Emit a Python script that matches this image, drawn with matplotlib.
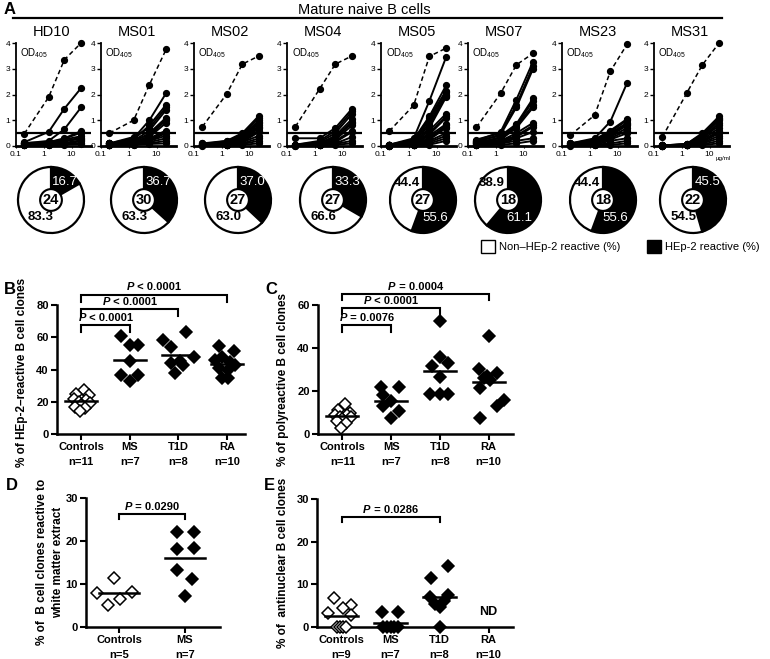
import numpy as np
import matplotlib
matplotlib.use('Agg')
import matplotlib.pyplot as plt
from matplotlib.patches import Rectangle
from matplotlib.offsetbox import TextArea, HPacker, AnnotationBbox

plt.rcParams['font.family'] = ['Liberation Sans', 'DejaVu Sans']
plt.rcParams['mathtext.fontset'] = 'custom'
plt.rcParams['mathtext.rm'] = 'Liberation Sans'
plt.rcParams['mathtext.it'] = 'Liberation Sans:italic'
plt.rcParams['mathtext.bf'] = 'Liberation Sans:bold'

# ---------------- data, panel A (OD405 ELISA curves) ----------------
conc = [0.2, 1.5, 5.5, 22]   # µg/ml

donors = ['HD10', 'MS01', 'MS02', 'MS04', 'MS05', 'MS07', 'MS23', 'MS31']
n_clones = [24, 30, 27, 27, 27, 18, 18, 22]
pct_pos = [16.7, 36.7, 37.0, 33.3, 55.6, 61.1, 55.6, 45.5]
pct_neg = [83.3, 63.3, 63.0, 66.6, 44.4, 38.9, 44.4, 54.5]

HD10_ctrl = [0.48, 1.9, 3.35, 4.0]
HD10 = [[0.15, 0.55, 1.45, 2.25], [0.1, 0.2, 0.65, 1.5], [0.12, 0.15, 0.3, 0.58],
        [0.1, 0.12, 0.28, 0.52], [0.08, 0.1, 0.25, 0.38], [0.1, 0.1, 0.2, 0.32],
        [0.05, 0.08, 0.18, 0.28], [0.05, 0.06, 0.12, 0.22], [0.03, 0.05, 0.1, 0.18],
        [0.02, 0.04, 0.06, 0.12], [0.02, 0.03, 0.05, 0.08]]
MS01_ctrl = [0.5, 1.0, 2.38, 3.75]
MS01 = [[0.1, 0.3, 1.0, 2.05], [0.05, 0.25, 0.8, 1.6], [0.1, 0.35, 0.7, 1.5],
        [0.05, 0.2, 0.6, 1.4], [0.1, 0.15, 0.5, 1.1], [0.05, 0.2, 0.45, 1.05],
        [0.1, 0.1, 0.4, 1.0], [0.05, 0.15, 0.35, 0.9], [0.1, 0.1, 0.3, 0.6],
        [0.05, 0.1, 0.25, 0.55], [0.05, 0.1, 0.2, 0.5], [0.1, 0.15, 0.2, 0.4],
        [0.05, 0.1, 0.15, 0.3], [0.05, 0.05, 0.1, 0.2], [0.02, 0.05, 0.08, 0.1]]
MS02_ctrl = [0.75, 2.02, 3.18, 3.5]
MS02 = [[0.1, 0.2, 0.5, 1.18], [0.08, 0.15, 0.45, 1.1], [0.05, 0.2, 0.4, 1.0],
        [0.1, 0.15, 0.35, 0.95], [0.05, 0.1, 0.3, 0.9], [0.05, 0.1, 0.3, 0.8],
        [0.02, 0.1, 0.25, 0.75], [0.05, 0.05, 0.2, 0.7], [0.02, 0.08, 0.2, 0.6],
        [0.05, 0.05, 0.15, 0.55], [0.02, 0.05, 0.15, 0.4], [0.02, 0.05, 0.1, 0.3],
        [0.02, 0.03, 0.08, 0.2], [0.01, 0.02, 0.05, 0.1]]
MS04_ctrl = [0.75, 2.22, 3.18, 3.5]
MS04 = [[0.3, 0.3, 0.7, 1.45], [0.05, 0.2, 0.6, 1.35], [0.05, 0.15, 0.5, 1.25],
        [0.02, 0.1, 0.4, 1.05], [0.05, 0.1, 0.35, 0.95], [0.02, 0.1, 0.3, 0.9],
        [0.02, 0.05, 0.25, 0.8], [0.02, 0.05, 0.2, 0.6], [0.02, 0.05, 0.15, 0.55],
        [0.02, 0.03, 0.1, 0.35], [0.01, 0.02, 0.08, 0.2], [0.01, 0.02, 0.05, 0.1]]
MS05_ctrl = [0.58, 1.58, 3.48, 3.8]
MS05 = [[0.05, 0.3, 1.75, 3.45], [0.05, 0.25, 1.15, 2.35], [0.05, 0.2, 1.1, 2.15],
        [0.02, 0.2, 1.0, 2.1], [0.02, 0.15, 0.9, 2.0], [0.02, 0.15, 0.8, 1.95],
        [0.02, 0.1, 0.7, 1.9], [0.02, 0.1, 0.6, 1.25], [0.02, 0.1, 0.5, 1.15],
        [0.02, 0.08, 0.45, 1.1], [0.02, 0.05, 0.4, 0.85], [0.02, 0.05, 0.3, 0.8],
        [0.02, 0.05, 0.3, 0.75], [0.01, 0.05, 0.25, 0.7], [0.01, 0.05, 0.2, 0.5],
        [0.01, 0.03, 0.15, 0.4], [0.01, 0.03, 0.1, 0.3], [0.01, 0.02, 0.05, 0.2]]
MS07_ctrl = [0.72, 2.05, 3.15, 3.6]
MS07 = [[0.2, 0.55, 1.8, 3.28], [0.25, 0.5, 1.6, 3.1], [0.15, 0.45, 1.5, 3.0],
        [0.2, 0.4, 0.85, 1.85], [0.1, 0.35, 0.8, 1.75], [0.15, 0.3, 0.75, 1.6],
        [0.1, 0.25, 0.7, 1.5], [0.05, 0.2, 0.5, 0.9], [0.1, 0.2, 0.4, 0.8],
        [0.05, 0.15, 0.35, 0.75], [0.05, 0.1, 0.3, 0.55], [0.05, 0.1, 0.2, 0.3],
        [0.02, 0.05, 0.1, 0.2]]
MS23_ctrl = [0.42, 1.2, 2.9, 3.95]
MS23 = [[0.1, 0.3, 0.95, 2.45], [0.1, 0.25, 0.6, 1.05], [0.05, 0.2, 0.55, 1.0],
        [0.1, 0.2, 0.5, 0.9], [0.05, 0.15, 0.45, 0.85], [0.05, 0.15, 0.4, 0.8],
        [0.05, 0.1, 0.35, 0.7], [0.02, 0.1, 0.3, 0.6], [0.02, 0.1, 0.25, 0.5],
        [0.02, 0.05, 0.2, 0.3], [0.02, 0.05, 0.1, 0.2], [0.01, 0.02, 0.05, 0.1]]
MS31_ctrl = [0.35, 2.05, 3.15, 4.0]
MS31 = [[0.02, 0.08, 0.5, 1.15], [0.02, 0.08, 0.45, 1.1], [0.02, 0.06, 0.4, 1.05],
        [0.02, 0.06, 0.35, 1.0], [0.02, 0.05, 0.3, 0.9], [0.02, 0.05, 0.3, 0.8],
        [0.02, 0.05, 0.25, 0.7], [0.02, 0.04, 0.2, 0.6], [0.01, 0.04, 0.2, 0.55],
        [0.01, 0.03, 0.15, 0.5], [0.01, 0.03, 0.12, 0.4], [0.01, 0.02, 0.1, 0.3],
        [0.01, 0.02, 0.06, 0.2], [0.01, 0.02, 0.04, 0.1]]

ctrl_curves = [HD10_ctrl, MS01_ctrl, MS02_ctrl, MS04_ctrl, MS05_ctrl, MS07_ctrl, MS23_ctrl, MS31_ctrl]
clone_curves = [HD10, MS01, MS02, MS04, MS05, MS07, MS23, MS31]

# ---------------- data, panels B-E (% per subject) ----------------
groups4 = ['Controls', 'MS', 'T1D', 'RA']
B_n = [11, 7, 8, 10]
B_ctrl = [27, 25, 24, 22, 21, 20, 19, 18, 17, 16, 14]
B_ms = [60.7, 55.1, 55.1, 45.2, 36.5, 36.5, 32.8]
B_t1d = [58.2, 54, 63, 47.5, 44, 42.5, 45, 38]
B_ra = [54.7, 51.4, 47.9, 44.5, 40.7, 39.6, 43, 34.7, 34.7, 46]

C_n = [11, 7, 8, 10]
C_ctrl = [14, 11, 10, 9, 9, 8, 8, 7, 6, 5, 3]
C_ms = [22, 22, 18, 15.5, 13, 10.8, 7.4]
C_t1d = [52.7, 36, 31.8, 32.9, 26.7, 18.6, 18.6, 18.6]
C_ra = [45.6, 30.1, 28.5, 27, 25.1, 21.5, 15.8, 13.2, 7.3, 26]

groups2 = ['Controls', 'MS']
D_n = [5, 7]
D_ctrl = [11.5, 7.8, 8.1, 5.2, 6.4]
D_ms = [22, 22, 18.1, 18.4, 13.2, 11.1, 7.2]

E_n = [9, 7, 8, 10]
E_ctrl = [6.8, 5.2, 4.4, 3.3, 2.7, 0, 0, 0, 0]
E_ms = [3.6, 3.6, 0, 0, 0, 0, 0]
E_t1d = [14.2, 11.5, 7.4, 7, 6, 5.5, 4.7, 0]

# horizontal scatter of the symbols (layout only)
off_ctrl11 = [0.05, -0.1, 0.15, -0.15, 0.1, -0.05, 0.18, 0.0, -0.12, 0.08, -0.02]
off_B = [off_ctrl11,
         [-0.18, 0.0, 0.17, 0.0, -0.18, 0.17, 0.0],
         [-0.31, -0.16, 0.16, 0.32, -0.16, 0.1, 0.03, -0.08],
         [-0.17, 0.14, -0.1, 0.07, -0.17, 0.03, 0.17, -0.1, 0.03, -0.24]]
off_C = [off_ctrl11,
         [-0.2, 0.17, -0.17, 0.0, -0.17, 0.17, 0.0],
         [0.0, 0.0, -0.17, 0.17, 0.0, -0.2, 0.0, 0.17],
         [0.0, -0.19, 0.17, -0.03, 0.03, -0.18, 0.32, 0.17, -0.18, -0.1]]
off_D = [[-0.08, -0.34, 0.19, -0.17, 0.01],
         [-0.12, 0.13, -0.12, 0.13, -0.12, 0.11, 0.0]]
off_E = [[-0.15, 0.2, 0.03, -0.27, 0.2, -0.1, -0.03, 0.03, 0.1],
         [-0.17, 0.15, -0.15, -0.07, 0.0, 0.07, 0.15],
         [0.17, -0.17, 0.17, -0.2, 0.1, -0.1, 0.0, 0.0]]

W, H = 770, 659
fig = plt.figure(figsize=(W / 100, H / 100), dpi=100)


def box(l, t, r, b):
    return [l / W, 1 - b / H, (r - l) / W, (b - t) / H]


def ftext(x, y, s, **kw):
    fig.text(x / W, 1 - y / H, s, **kw)


# ---------------- panel A ----------------
ftext(4, 10, 'A', fontsize=12, fontweight='bold', va='center')
ftext(364, 10, 'Mature naive B cells', fontsize=10.5, ha='center', va='center')
fig.add_artist(plt.Line2D([13 / W, 722 / W], [1 - 18 / H, 1 - 18 / H], color='k', lw=1.6))

a_left = [16, 101, 194, 287, 381, 468, 562, 654]
pie_x = [51, 144, 238, 333, 423, 508, 603, 693]
pie_y = 200
R = 33

for i, name in enumerate(donors):
    l = a_left[i]
    ax = fig.add_axes(box(l, 43, l + 75, 146))
    for c in clone_curves[i]:
        ax.plot(conc, c, '-o', color='k', lw=1.4, ms=4.2, clip_on=False, zorder=3)
    ax.plot(conc, ctrl_curves[i], '--o', color='k', lw=1.1, ms=4.2, dashes=(3, 2),
            clip_on=False, zorder=3)
    ax.axhline(0.5, color='k', lw=1.6, zorder=2)
    ax.set_xscale('log')
    ax.set_xlim(0.1, 50)
    ax.set_ylim(0, 4)
    for s in ['top', 'right']:
        ax.spines[s].set_visible(False)
    ax.spines['left'].set_linewidth(1.3)
    ax.spines['bottom'].set_linewidth(2)
    ax.set_yticks([0, 1, 2, 3, 4])
    ax.set_yticklabels(['0', '1', '2', '3', '4'], fontsize=6)
    ax.set_xticks([0.1, 1, 10])
    ax.set_xticklabels(['0.1', '1', '10'], fontsize=6)
    ax.xaxis.set_minor_locator(matplotlib.ticker.NullLocator())
    ax.tick_params(axis='y', length=3, width=1, pad=1)
    ax.tick_params(axis='x', length=1.5, width=0.8, pad=2)
    ax.text(0.06, 0.97, r'OD$_{405}$', transform=ax.transAxes, fontsize=7, va='top')
    if i == len(donors) - 1:
        ax.text(17, -0.1, 'µg/ml', fontsize=4.5, va='top', transform=ax.get_xaxis_transform())
    ftext(l + 36, 32, name, fontsize=10.5, ha='center', va='center')

    # pie of reactivity
    S = R * 1.1
    pax = fig.add_axes(box(pie_x[i] - S, pie_y - S, pie_x[i] + S, pie_y + S))
    pax.pie([pct_pos[i], pct_neg[i]], colors=['k', 'w'], startangle=90, counterclock=False,
            radius=1, wedgeprops=dict(edgecolor='k', linewidth=1.6))
    pax.set_xlim(-1.1, 1.1)
    pax.set_ylim(-1.1, 1.1)
    pax.add_patch(plt.Circle((0, 0), 0.33, fc='w', ec='k', lw=1.5, zorder=5))
    pax.text(0, 0, str(n_clones[i]), ha='center', va='center', fontsize=10.5,
             fontweight='bold', zorder=6)
    if pct_pos[i] < 50:
        ap, an, rp, rn = np.deg2rad(52), np.deg2rad(-120), 0.70, 0.60
    else:
        ap, an, rp, rn = np.deg2rad(-57), np.deg2rad(133), 0.66, 0.72
    pax.text(rp * np.cos(ap), rp * np.sin(ap), f'{pct_pos[i]:.1f}', color='w',
             ha='center', va='center', fontsize=9.5, zorder=6)
    pax.text(rn * np.cos(an), rn * np.sin(an), f'{pct_neg[i]:.1f}', color='k',
             ha='center', va='center', fontsize=9.5, fontweight='bold', zorder=6)

# legend for pies
fig.add_artist(Rectangle((481 / W, 1 - 253 / H), 14 / W, 13 / H, transform=fig.transFigure,
                         fc='w', ec='k', lw=1))
ftext(499, 247, 'Non\u2013HEp-2 reactive (%)', fontsize=8, va='center')
fig.add_artist(Rectangle((647 / W, 1 - 253 / H), 14 / W, 13 / H, transform=fig.transFigure,
                         fc='k', ec='k', lw=1))
ftext(665, 247, 'HEp-2 reactive (%)', fontsize=8, va='center')


# ---------------- helpers for dot plots ----------------
def ptext(ax, x, y, rest):
    a = TextArea('P', textprops=dict(fontstyle='italic', fontweight='bold', fontsize=8))
    b = TextArea(rest, textprops=dict(fontweight='bold', fontsize=8))
    pk = HPacker(children=[a, b], align='baseline', pad=0, sep=0)
    ab = AnnotationBbox(pk, (x, y), xycoords='data', xybox=(0, 1.5), boxcoords='offset points',
                        frameon=False, box_alignment=(0.5, 0), annotation_clip=False)
    ax.add_artist(ab)


def bracket(ax, x0, x1, y, drop, txt):
    ax.plot([x0, x0, x1, x1], [y - drop, y, y, y - drop], color='k', lw=1.5,
            clip_on=False, solid_joinstyle='miter')
    ptext(ax, (x0 + x1) / 2, y, txt)


def dot_panel(ax, values, offsets, half, ymax, yticks, cats, ns, xmax):
    for k, vals in enumerate(values):
        xs = [k + o for o in offsets[k]]
        filled = k > 0
        ax.plot(xs, vals, 'D', ms=6.2, mfc='k' if filled else 'w', mec='k', mew=1.1,
                ls='none', clip_on=False, zorder=3)
        m = np.mean(vals)
        ax.plot([k - half, k + half], [m, m], color='k', lw=1.8, zorder=4)
    ax.set_xlim(-0.5, xmax)
    ax.set_ylim(0, ymax)
    for s in ['top', 'right']:
        ax.spines[s].set_visible(False)
    for s in ['left', 'bottom']:
        ax.spines[s].set_linewidth(1.8)
    ax.set_yticks(yticks)
    ax.set_yticklabels([str(t) for t in yticks], fontsize=8, fontweight='bold')
    ax.set_xticks(range(len(cats)))
    ax.set_xticklabels([f'{c}\nn={n}' for c, n in zip(cats, ns)], fontsize=8,
                       fontweight='bold', linespacing=1.6)
    ax.tick_params(direction='out', length=4, width=1.5, pad=2)


# ---------------- panel B ----------------
ftext(4, 290, 'B', fontsize=12, fontweight='bold', va='center')
axB = fig.add_axes(box(57, 305, 245, 434))
dot_panel(axB, [B_ctrl, B_ms, B_t1d, B_ra], off_B, 0.33, 80, [0, 20, 40, 60, 80],
          groups4, B_n, 3.37)
bracket(axB, 0, 1, 67.5, 4.5, ' < 0.0001')
bracket(axB, 0, 2, 77.5, 4.5, ' < 0.0001')
bracket(axB, 0, 3, 86.5, 4.5, ' < 0.0001')
ftext(22, 372, '% of HEp-2\u2013reactive B cell clones', rotation=90, fontsize=8.5,
      fontweight='bold', ha='center', va='center')

# ---------------- panel C ----------------
ftext(265, 290, 'C', fontsize=12, fontweight='bold', va='center')
axC = fig.add_axes(box(318, 305, 513, 434))
dot_panel(axC, [C_ctrl, C_ms, C_t1d, C_ra], off_C, 0.33, 60, [0, 20, 40, 60],
          groups4, C_n, 3.5)
bracket(axC, 0, 1, 50.5, 3.0, ' = 0.0076')
bracket(axC, 0, 2, 58.7, 3.0, ' < 0.0001')
bracket(axC, 0, 3, 65.3, 3.0, ' = 0.0004')
ftext(283, 380, '% of polyreactive B cell clones', rotation=90, fontsize=8.5,
      fontweight='bold', ha='center', va='center')

# ---------------- panel D ----------------
ftext(6, 485, 'D', fontsize=12, fontweight='bold', va='center')
axD = fig.add_axes(box(86, 498, 220, 627))
dot_panel(axD, [D_ctrl, D_ms], off_D, 0.3, 30, [0, 10, 20, 30], groups2, D_n, 1.53)
bracket(axD, 0, 1, 26.3, 1.2, ' = 0.0290')
ftext(50, 562, '% of  B cell clones reactive to\nwhite matter extract', rotation=90,
      fontsize=8.5, fontweight='bold', ha='center', va='center', linespacing=1.4)

# ---------------- panel E ----------------
ftext(264, 485, 'E', fontsize=12, fontweight='bold', va='center')
axE = fig.add_axes(box(317, 499, 513, 627))
dot_panel(axE, [E_ctrl, E_ms, E_t1d], off_E, 0.33, 30, [0, 10, 20, 30], groups4, E_n, 3.5)
bracket(axE, 0, 2, 25.7, 1.0, ' = 0.0286')
axE.text(3, 3.5, 'ND', ha='center', va='center', fontsize=9, fontweight='bold')
ftext(283, 563, '% of  antinuclear B cell clones', rotation=90, fontsize=8.5,
      fontweight='bold', ha='center', va='center')

fig.savefig('out.png', dpi=100)
